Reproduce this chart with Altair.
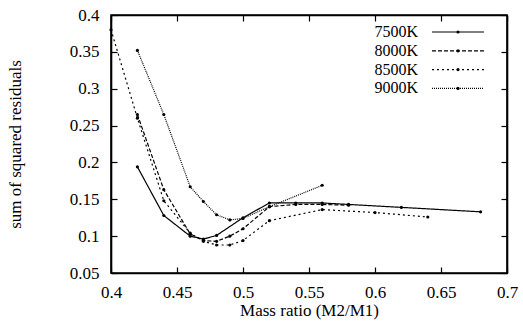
import altair as alt
import pandas as pd

series = ["7500K", "8000K", "8500K", "9000K"]

x7500 = [0.42, 0.44, 0.46, 0.47, 0.48, 0.50, 0.52, 0.54, 0.56, 0.58, 0.62, 0.68]
y7500 = [0.194, 0.128, 0.100, 0.096, 0.101, 0.125, 0.145, 0.145, 0.145, 0.143, 0.139, 0.133]

x8000 = [0.42, 0.44, 0.46, 0.47, 0.48, 0.49, 0.50, 0.52, 0.54, 0.56, 0.58]
y8000 = [0.265, 0.163, 0.103, 0.094, 0.093, 0.100, 0.110, 0.140, 0.143, 0.143, 0.142]

x8500 = [0.40, 0.42, 0.44, 0.46, 0.47, 0.48, 0.49, 0.50, 0.52, 0.56, 0.60, 0.64]
y8500 = [0.380, 0.260, 0.148, 0.104, 0.093, 0.088, 0.088, 0.094, 0.121, 0.136, 0.132, 0.126]

x9000 = [0.42, 0.44, 0.46, 0.47, 0.48, 0.49, 0.50, 0.52, 0.56]
y9000 = [0.352, 0.265, 0.167, 0.147, 0.129, 0.122, 0.124, 0.140, 0.169]

xticks = [0.4, 0.45, 0.5, 0.55, 0.6, 0.65, 0.7]
yticks = [0.05, 0.1, 0.15, 0.2, 0.25, 0.3, 0.35, 0.4]

W, H = 396, 258
FONT = "Liberation Serif"
dash_range = [[1, 0], [4, 2], [2, 3], [1, 1]]

rows = []
for name, xs, ys in zip(series, [x7500, x8000, x8500, x9000], [y7500, y8000, y8500, y9000]):
    for a, b in zip(xs, ys):
        rows.append({"series": name, "x": a, "y": b})
df = pd.DataFrame(rows)

dash = alt.StrokeDash("series:N", scale=alt.Scale(domain=series, range=dash_range), legend=None)

xscale = alt.Scale(domain=[0.4, 0.7], nice=False, zero=False)
yscale = alt.Scale(domain=[0.05, 0.4], nice=False, zero=False)

inward = {"expr": "-6"}
common_axis = dict(
    format="~g", grid=False, domain=True, domainColor="black", domainWidth=1.6,
    ticks=True, tickColor="black", tickWidth=1.2, tickSize=inward,
    labelFont=FONT, labelFontSize=17, labelColor="black", labelFlush=False, labelOverlap=False,
    titleFont=FONT, titleFontSize=17, titleFontWeight="normal", titleColor="black",
)
xaxis = alt.Axis(values=xticks, orient="bottom", labelPadding=17, title="Mass ratio (M2/M1)",
                 titlePadding=2, **common_axis)
yaxis = alt.Axis(values=yticks, orient="left", labelPadding=18, title="sum of squared residuals",
                 titlePadding=45, **common_axis)
nolabel = {k: v for k, v in common_axis.items() if k != "format"}
xaxis_top = alt.Axis(values=xticks, orient="top", labels=False, title=None, **nolabel)
yaxis_right = alt.Axis(values=yticks, orient="right", labels=False, title=None, **nolabel)

lines = alt.Chart(df).mark_line(color="black", strokeWidth=1.2).encode(
    x=alt.X("x:Q", scale=xscale, axis=xaxis),
    y=alt.Y("y:Q", scale=yscale, axis=yaxis),
    strokeDash=dash, detail="series:N",
)
points = alt.Chart(df).mark_point(filled=True, size=10, color="black", opacity=1).encode(
    x=alt.X("x:Q", scale=xscale, axis=xaxis_top),
    y=alt.Y("y:Q", scale=yscale, axis=yaxis_right),
)

# legend (gnuplot style: label then line sample), one small layer per series
legend_layers = []
for i, name in enumerate(series):
    ty = 17 + 18.8 * i
    legend_layers.append(
        alt.Chart(pd.DataFrame({"series": [name]})).mark_text(
            align="right", baseline="middle", font=FONT, fontSize=16, color="black"
        ).encode(x=alt.value(307), y=alt.value(ty), text="series:N")
    )
    legend_layers.append(
        alt.Chart(pd.DataFrame({"series": [name]})).mark_rule(
            color="black", strokeWidth=1.2, strokeDash=dash_range[i]
        ).encode(x=alt.value(321), x2=alt.value(373), y=alt.value(ty))
    )
    legend_layers.append(
        alt.Chart(pd.DataFrame({"series": [name]})).mark_point(
            filled=True, size=10, color="black", opacity=1
        ).encode(x=alt.value(347), y=alt.value(ty))
    )

chart = alt.layer(
    lines, points, *legend_layers
).resolve_axis(x="independent", y="independent").properties(
    width=W, height=H,
    autosize=alt.AutoSizeParams(type="none"),
    padding={"left": 111, "top": 15, "right": 16, "bottom": 58},
    background="white",
).configure_view(stroke="black", strokeWidth=1.6)

chart.save("out.html", embed_options={"renderer": "svg", "actions": False})
